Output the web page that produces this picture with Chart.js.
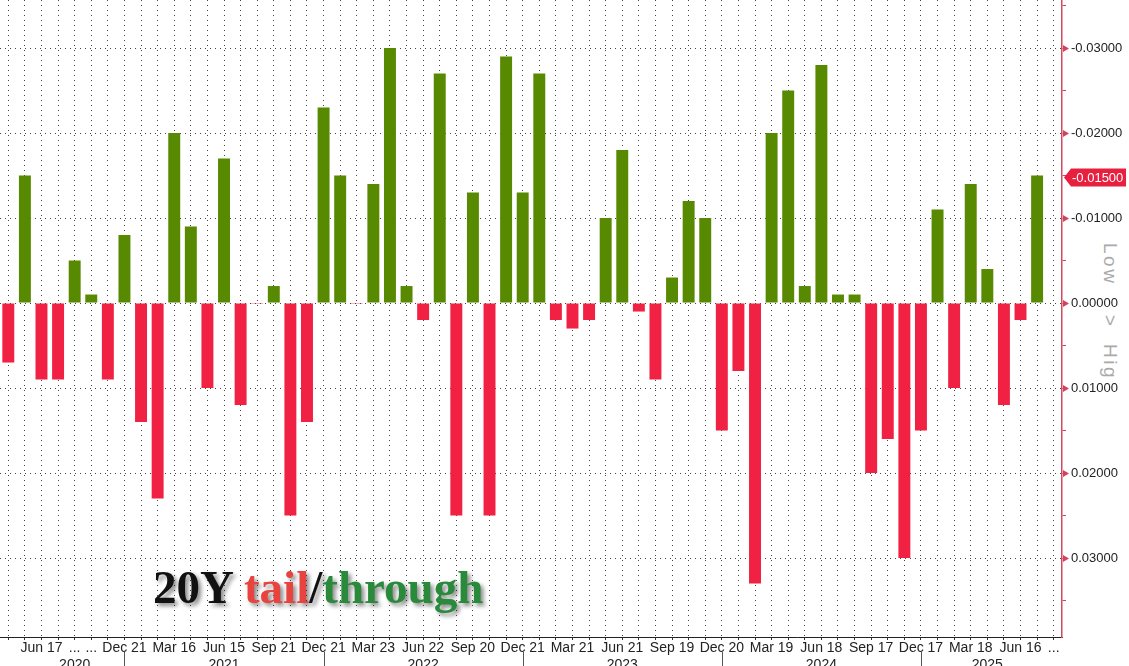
<!DOCTYPE html>
<html>
<head>
<meta charset="utf-8">
<title>20Y tail/through</title>
<script src="https://cdn.jsdelivr.net/npm/chart.js@4.4.1/dist/chart.umd.min.js"></script>
<style>
  body { margin: 0; background: #fff; overflow: hidden; }
  #wrap { position: relative; width: 1129px; height: 666px; }
  #chart { position: absolute; left: 0; top: 0; z-index: 1; }
  #lowhigh {
    position: absolute; left: 1120px; top: 243px; z-index: 0;
    transform-origin: 0 0; transform: rotate(90deg);
    font: 19px "Liberation Sans", sans-serif; line-height: 19px;
    color: #aaaaaa; letter-spacing: 2.5px; word-spacing: 8px; white-space: nowrap;
  }
  #title {
    position: absolute; left: 153px; top: 564px; z-index: 2;
    font: bold 47px "Liberation Serif", serif; line-height: 47px; white-space: nowrap;
    text-shadow: 3px 3px 4px rgba(0, 0, 0, 0.45);
  }
</style>
</head>
<body>
<div id="wrap">
  <div id="lowhigh">Low &lt;&gt; High</div>
  <canvas id="chart" width="1129" height="666"></canvas>
  <div id="title"><span style="color:#111">20Y </span><span style="color:#e8433f">tail</span><span style="color:#111">/</span><span style="color:#2a8a3b">through</span></div>
</div>
<script>
// auction months, May 2020 .. Jul 2025 (one spare slot at the end)
const months = [
  "May 2020", "Jun 2020", "Jul 2020", "Aug 2020", "Sep 2020", "Oct 2020", "Nov 2020", "Dec 2020",
  "Jan 2021", "Feb 2021", "Mar 2021", "Apr 2021", "May 2021", "Jun 2021", "Jul 2021", "Aug 2021", "Sep 2021", "Oct 2021", "Nov 2021", "Dec 2021",
  "Jan 2022", "Feb 2022", "Mar 2022", "Apr 2022", "May 2022", "Jun 2022", "Jul 2022", "Aug 2022", "Sep 2022", "Oct 2022", "Nov 2022", "Dec 2022",
  "Jan 2023", "Feb 2023", "Mar 2023", "Apr 2023", "May 2023", "Jun 2023", "Jul 2023", "Aug 2023", "Sep 2023", "Oct 2023", "Nov 2023", "Dec 2023",
  "Jan 2024", "Feb 2024", "Mar 2024", "Apr 2024", "May 2024", "Jun 2024", "Jul 2024", "Aug 2024", "Sep 2024", "Oct 2024", "Nov 2024", "Dec 2024",
  "Jan 2025", "Feb 2025", "Mar 2025", "Apr 2025", "May 2025", "Jun 2025", "Jul 2025",
  ""
];

// tail (+) / through (-) in yield terms
const values = [
  0.007, -0.015, 0.009, 0.009, -0.005, -0.001, 0.009, -0.008,
  0.014, 0.023, -0.020, -0.009, 0.010, -0.017, 0.012, 0.0001, -0.002, 0.025, 0.014, -0.023,
  -0.015, 0.0001, -0.014, -0.030, -0.002, 0.002, -0.027, 0.025, -0.013, 0.025, -0.029, -0.013,
  -0.027, 0.002, 0.003, 0.002, -0.010, -0.018, 0.001, 0.009, -0.003, -0.012, -0.010, 0.015,
  0.008, 0.033, -0.020, -0.025, -0.002, -0.028, -0.001, -0.001, 0.020, 0.016, 0.030, 0.015,
  -0.011, 0.010, -0.014, -0.004, 0.012, 0.002, -0.015
];

// bottom axis labels (category index -> text)
const tickAt = [2, 4, 5, 7, 10, 13, 16, 19, 22, 25, 28, 31, 34, 37, 40, 43, 46, 49, 52, 55, 58, 61, 63];
const tickText = ["Jun 17", "...", "...", "Dec 21", "Mar 16", "Jun 15", "Sep 21", "Dec 21", "Mar 23", "Jun 22",
  "Sep 20", "Dec 21", "Mar 21", "Jun 21", "Sep 19", "Dec 20", "Mar 19", "Jun 18", "Sep 17", "Dec 17",
  "Mar 18", "Jun 16", "..."];
const yearAt = [4, 13, 25, 37, 49, 59];
const years = ["2020", "2021", "2022", "2023", "2024", "2025"];
const yearBreaks = [7, 19, 31, 43, 55];

const GREEN = "#578a00";
const RED = "#f02142";

function isMajor(v) {
  return Math.abs(Math.round(v / 0.01) * 0.01 - v) < 1e-9;
}
function fmt(v) {
  return (Math.abs(v) < 1e-9 ? 0 : v).toFixed(5);
}

// triangles on the right axis, last value tag, year separators
const overlay = {
  id: "overlay",
  afterDraw(chart) {
    const { ctx, scales: { x, y } } = chart;
    ctx.save();

    ctx.fillStyle = "#d6405c";
    y.ticks.forEach((t) => {
      if (!isMajor(t.value)) return;
      const py = Math.round(y.getPixelForValue(t.value)) + 0.5;
      ctx.beginPath();
      ctx.moveTo(y.left + 1, py - 3.5);
      ctx.lineTo(y.left + 7, py);
      ctx.lineTo(y.left + 1, py + 3.5);
      ctx.closePath();
      ctx.fill();
    });

    const last = values[values.length - 1];
    const ty = Math.round(y.getPixelForValue(last)) + 1.5;
    ctx.fillStyle = "#e8203f";
    ctx.beginPath();
    ctx.moveTo(y.left + 2, ty);
    ctx.lineTo(y.left + 9, ty - 9);
    ctx.lineTo(chart.width - 3, ty - 9);
    ctx.lineTo(chart.width - 3, ty + 9);
    ctx.lineTo(y.left + 9, ty + 9);
    ctx.closePath();
    ctx.fill();
    ctx.fillStyle = "#fff";
    ctx.font = '13px "Liberation Sans"';
    ctx.textBaseline = "middle";
    ctx.textAlign = "left";
    ctx.fillText(fmt(last), y.left + 10, ty + 1);

    ctx.strokeStyle = "#555";
    ctx.lineWidth = 1;
    yearBreaks.forEach((i) => {
      const px = Math.round(x.getPixelForValue(i)) + 0.5;
      ctx.beginPath();
      ctx.moveTo(px, x.top + 15);
      ctx.lineTo(px, chart.height);
      ctx.stroke();
    });

    ctx.restore();
  },
};

const ctx = document.getElementById("chart");
const myChart = new Chart(ctx, {
  type: "bar",
  data: {
    labels: months,
    datasets: [
      {
        data: values,
        backgroundColor: values.map((v) => (v < 0 ? GREEN : RED)),
        borderWidth: 0,
        barPercentage: 0.72,
        categoryPercentage: 1.0,
      },
    ],
  },
  options: {
    responsive: false,
    animation: false,
    devicePixelRatio: 1,
    layout: { padding: 0 },
    plugins: {
      legend: { display: false },
      tooltip: { enabled: false },
    },
    scales: {
      x: {
        offset: true,
        grid: {
          offset: false,
          color: "#444",
          lineWidth: 1,
          tickLength: 3,
          tickColor: "#333",
        },
        border: { display: true, color: "#222", width: 1, dash: [1, 4] },
        ticks: {
          autoSkip: false,
          maxRotation: 0,
          minRotation: 0,
          padding: 0,
          color: "#222",
          font: { family: "Liberation Sans", size: 14 },
          callback: function (value, index) {
            const k = tickAt.indexOf(index);
            const t = k >= 0 ? tickText[k] : "";
            const yi = yearAt.indexOf(index);
            return yi >= 0 ? [t, years[yi]] : t;
          },
        },
        afterFit: function (scale) {
          scale.height = 29;
          scale.paddingLeft = 0;
          scale.paddingRight = 0;
        },
      },
      y: {
        position: "right",
        reverse: true,
        min: -0.03565,
        max: 0.03929,
        grid: {
          color: (c) => (c.tick && isMajor(c.tick.value) ? "#444" : "rgba(0,0,0,0)"),
          lineWidth: 1,
          tickLength: 4,
          tickColor: "#d6405c",
        },
        border: { display: true, color: "#d04a62", width: 1.5, dash: [1, 4] },
        ticks: {
          stepSize: 0.005,
          includeBounds: false,
          padding: 5,
          color: "#222",
          font: { family: "Liberation Sans", size: 13 },
          showLabelBackdrop: true,
          backdropColor: "#fff",
          backdropPadding: 1,
          callback: (v) => (isMajor(v) ? fmt(v) : ""),
        },
        afterFit: function (scale) {
          scale.width = 67;
          scale.paddingTop = 0;
          scale.paddingBottom = 0;
        },
      },
    },
  },
  plugins: [overlay],
});
</script>
</body>
</html>
